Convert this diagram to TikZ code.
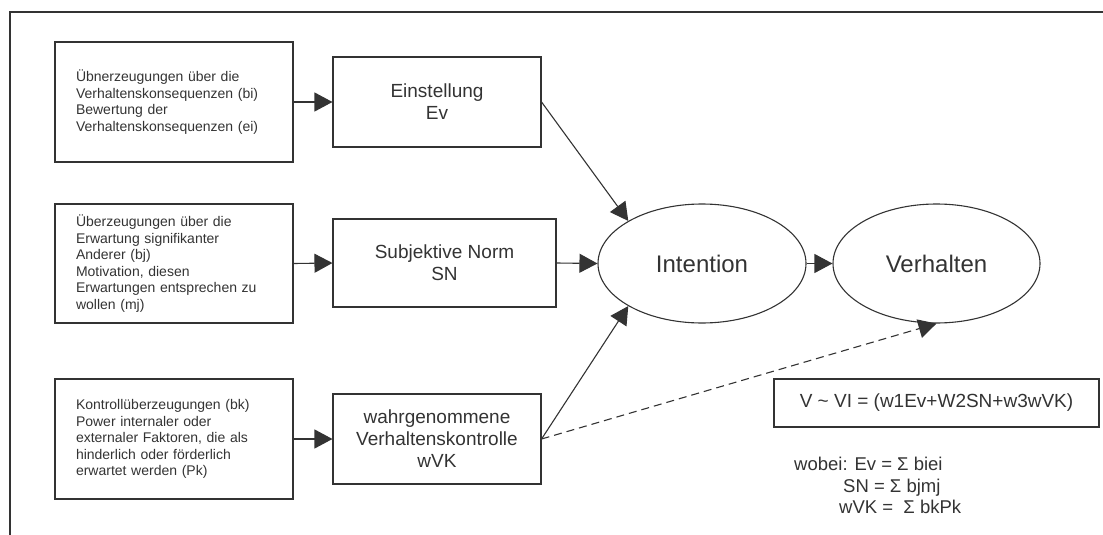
\documentclass[tikz,border=0pt]{standalone}
\usepackage{fontspec}
\setmainfont{Liberation Sans}
\usetikzlibrary{arrows.meta,shapes.geometric}
\definecolor{ink}{HTML}{333333}

\begin{document}
\begin{tikzpicture}[x=1pt,y=-1pt,
  every node/.style={text=ink},
  conn/.style={draw=ink, line width=1.1pt, -{Triangle[length=18pt,width=19pt]}},
  srcbox/.style={draw=ink, line width=1.1pt, rectangle, text width=196pt,
    inner xsep=21pt, minimum height=120pt, align=left,
    font=\fontsize{14}{16.5}\selectfont},
  midbox/.style={draw=ink, line width=1.1pt, rectangle, minimum height=90pt,
    align=center, font=\fontsize{19}{22}\selectfont},
  oval/.style={draw=ink, line width=1.1pt, ellipse, minimum width=208pt,
    minimum height=119pt, font=\fontsize{24}{28}\selectfont},
  note/.style={anchor=base west, inner sep=0pt, font=\fontsize{18.5}{22}\selectfont}
]
\useasboundingbox (0,0) rectangle (1103,535);

% outer frame (top and left edges)
\draw[ink, line width=2pt] (1103,12) -- (10,12) -- (10,535);

% belief boxes
\node[srcbox, minimum height=120pt] (b1) at (174,102)
  {Übnerzeugungen über die\\Verhaltenskonsequenzen (bi)\\Bewertung der\\Verhaltenskonsequenzen (ei)};
\node[srcbox, minimum height=119pt] (b2) at (174,263.5)
  {Überzeugungen über die\\Erwartung signifikanter\\Anderer (bj)\\Motivation, diesen\\Erwartungen entsprechen zu\\wollen (mj)};
\node[srcbox, minimum height=120pt] (b3) at (174,439)
  {Kontrollüberzeugungen (bk)\\Power internaler oder\\externaler Faktoren, die als\\hinderlich oder förderlich\\erwartet werden (Pk)};

% construct boxes
\node[midbox, minimum width=208pt] (ev) at (437,102) {Einstellung\\Ev};
\node[midbox, minimum width=223pt, minimum height=88pt] (sn) at (444.5,263) {Subjektive Norm\\SN};
\node[midbox, minimum width=208pt] (wvk) at (437,439) {wahrgenommene\\Verhaltenskontrolle\\wVK};

% intention and behaviour
\node[oval] (int) at (702,263.5) {Intention};
\node[oval, minimum width=207pt] (verh) at (936.5,263.5) {Verhalten};

% formula
\node[draw=ink, line width=1.1pt, minimum width=325pt, minimum height=48pt,
  font=\fontsize{19}{22}\selectfont] (form) at (936.5,403)
  {V \textasciitilde{} VI = (w1Ev+W2SN+w3wVK)};
\node[note] (wb1) at (794,470) {wobei: Ev = Σ biei};
\node[note] (wb2) at (843,492) {SN = Σ bjmj};
\node[note] (wb3) at (839,513) {wVK = \ Σ bkPk};

% connectors
\draw[conn] (b1.east) -- (ev.west);
\draw[conn] (b2.east) -- (sn.west);
\draw[conn] (b3.east) -- (wvk.west);
\draw[conn] (ev.east) -- (int.150);
\draw[conn] (sn.east) -- (int.west);
\draw[conn] (wvk.east) -- (int.210);
\draw[conn] (int.east) -- (verh.west);
\draw[conn, dash pattern=on 8pt off 5pt] (wvk.east) -- (verh.south);
\end{tikzpicture}
\end{document}
